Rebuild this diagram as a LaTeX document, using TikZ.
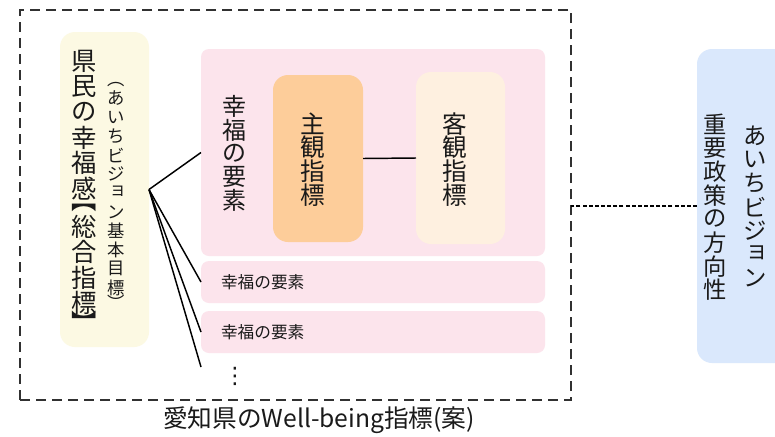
\documentclass[tikz,border=0pt]{standalone}
\usepackage{fontspec}
\setmainfont{Noto Sans CJK JP}
\newfontfamily\dejavu{DejaVu Sans}
\newlength\cellh
\newlength\cellw
\newcommand\vfull[1]{\vbox to\cellh{\vss\hbox to\cellw{\hss#1\hss}\vss}}
\newcommand\vhalf[1]{\vbox to .5\cellh{\vss\hbox to\cellw{\hss#1\hss}\vss}}
\newcommand\vsmk[1]{\vbox to\cellh{\vss\hbox to\cellw{\hss\hskip .18\cellw #1\hss}\vss\vskip .18\cellh}}
\newcommand\vcolumn[3]{\vbox{\offinterlineskip\setlength\cellh{#1}\setlength\cellw{#2}#3}}
\definecolor{txt}{HTML}{1A1A1A}
\definecolor{yfill}{HTML}{FCF9E3}
\definecolor{pfill}{HTML}{FCE4EC}
\definecolor{ofill}{HTML}{FDCD9A}
\definecolor{lofill}{HTML}{FEF0E0}
\definecolor{bfill}{HTML}{DAE8FC}
\begin{document}
\begin{tikzpicture}[x=0.75pt,y=-0.75pt,
  bigr/.style={rounded corners=11.25pt, inner sep=0, outer sep=0},
  smallr/.style={rounded corners=6pt, inner sep=0, outer sep=0},
  vtext/.style={inner sep=0, outer sep=0, text=txt},
  link/.style={draw=black, line width=1.1pt},
  finedash/.style={draw=black, line width=0.9pt, dash pattern=on 3pt off 1.6pt}]
\useasboundingbox (0,0) rectangle (775,436);
\clip (0,0) rectangle (775,436);
\fill[white] (0,0) rectangle (775,436);

% outer dashed frame
\node[draw=txt!90, line width=1.1pt, dash pattern=on 7.5pt off 4.5pt, inner sep=0, outer sep=0,
  minimum width=413.25pt, minimum height=292.5pt] (frame) at (295.5,205) {};
\node[vtext, font=\fontsize{18.5pt}{20pt}\selectfont] (cap) at (319,420.5) {愛知県のWell-being指標(案)};

% yellow box
\node[bigr, fill=yfill, minimum width=66.75pt, minimum height=236.25pt] (goal) at (104.5,189.5) {};
\node[vtext, font=\fontsize{19pt}{19pt}\selectfont] (goalmain) at (84,188.5)
  {\vcolumn{19.1pt}{20pt}{\vfull{県}\vfull{民}\vfull{の}\vfull{幸}\vfull{福}\vfull{感}\vhalf{︻}\vfull{総}\vfull{合}\vfull{指}\vfull{標}\vhalf{︼}}};
\node[vtext, font=\fontsize{13pt}{13pt}\selectfont] (goalsub) at (116,193)
  {\vcolumn{14.2pt}{14pt}{\vhalf{︵}\vfull{あ}\vfull{い}\vfull{ち}\vfull{ビ}\vfull{ジ}\vsmk{ョ}\vfull{ン}\vfull{基}\vfull{本}\vfull{目}\vfull{標}\vhalf{︶}}};

% pink element box 1
\node[smallr, fill=pfill, minimum width=258pt, minimum height=155.25pt] (elem1) at (373,152.5) {};
\node[vtext, font=\fontsize{18pt}{18pt}\selectfont] (elem1t) at (234,153.5)
  {\vcolumn{17.6pt}{19pt}{\vfull{幸}\vfull{福}\vfull{の}\vfull{要}\vfull{素}}};
\node[bigr, fill=ofill, minimum width=67.5pt, minimum height=125.25pt] (subj) at (318,158.5) {};
\node[vtext, font=\fontsize{18.5pt}{18.5pt}\selectfont] (subjt) at (313,159.5)
  {\vcolumn{17.8pt}{19pt}{\vfull{主}\vfull{観}\vfull{指}\vfull{標}}};
\node[bigr, fill=lofill, minimum width=66.75pt, minimum height=129pt] (obj) at (460.5,158) {};
\node[vtext, font=\fontsize{18.5pt}{18.5pt}\selectfont] (objt) at (455,159.5)
  {\vcolumn{17.8pt}{19pt}{\vfull{客}\vfull{観}\vfull{指}\vfull{標}}};
\draw[link] (subj.east) -- (obj.west);

% pink element boxes 2, 3
\node[smallr, fill=pfill, minimum width=258pt, minimum height=31.5pt] (elem2) at (373,282) {};
\node[vtext, anchor=west, font=\fontsize{12.5pt}{14pt}\selectfont] (elem2t) at (221,282.5) {幸福の要素};
\node[smallr, fill=pfill, minimum width=258pt, minimum height=31.5pt] (elem3) at (373,332) {};
\node[vtext, anchor=west, font=\fontsize{12.5pt}{14pt}\selectfont] (elem3t) at (221,332.5) {幸福の要素};
\node[vtext, font=\dejavu\fontsize{17pt}{17pt}\selectfont] (dots) at (235,376.5) {⋮};
\coordinate (more) at (201,367);

% connectors from the overall indicator
\draw[link] (goal.east) -- (elem1.west);
\draw[link] (goal.east) -- (elem2.west);
\draw[link] (goal.east) -- (elem3.west);
\draw[link] (goal.east) -- (more);

% blue box
\node[bigr, fill=bfill, minimum width=77.25pt, minimum height=235.5pt] (vision) at (748.5,206) {};
\node[vtext, font=\fontsize{17.5pt}{17.5pt}\selectfont] (visiona) at (755,207)
  {\vcolumn{17.8pt}{18pt}{\vfull{あ}\vfull{い}\vfull{ち}\vfull{ビ}\vfull{ジ}\vsmk{ョ}\vfull{ン}}};
\node[vtext, font=\fontsize{17.5pt}{17.5pt}\selectfont] (visionb) at (715,207)
  {\vcolumn{17.8pt}{18pt}{\vfull{重}\vfull{要}\vfull{政}\vfull{策}\vfull{の}\vfull{方}\vfull{向}\vfull{性}}};
\draw[finedash] (vision.west) -- (vision.west -| frame.east);
\end{tikzpicture}
\end{document}
